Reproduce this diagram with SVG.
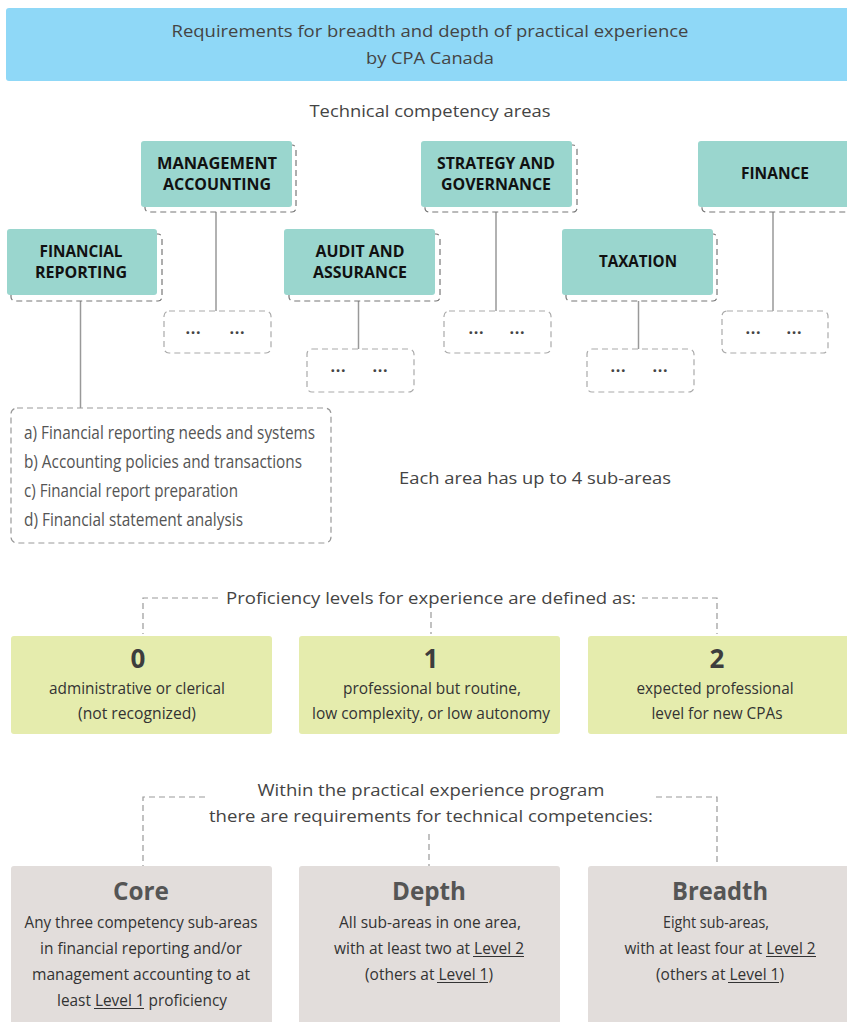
<svg xmlns="http://www.w3.org/2000/svg" width="847" height="1022" viewBox="0 0 847 1022">
<style>
text{font-family:"Open Sans","DejaVu Sans",sans-serif;fill:#444;text-anchor:middle}
.t{font-size:17px}
.c{font-size:17px;fill:#333}
.l{font-size:18px;fill:#555;text-anchor:start}
.h{font-size:16px;font-weight:bold;fill:#111}
.n{font-size:26px;font-weight:bold;fill:#3d3d3d}
.g{font-size:25px;font-weight:bold;fill:#555}
.d{font-size:16px;font-weight:bold;fill:#444}
.teal{fill:#9AD6CE}
.sh{fill:none;stroke:#777;stroke-width:1.2;stroke-dasharray:6 4}
.sm{fill:#fff;stroke:#aaa;stroke-width:1.2;stroke-dasharray:6 4}
.ln{stroke:#999;stroke-width:1.5;fill:none}
.dl{stroke:#999;stroke-width:1.2;fill:none;stroke-dasharray:6 4}
.ul{stroke:#333;stroke-width:1.1}
.grn{fill:#E5ECAD}
.gry{fill:#E2DDDB}
</style>
<rect x="6" y="8" width="845" height="73" rx="3" fill="#8FD8F7"/>
<text class="t" x="430" y="37" textLength="517" lengthAdjust="spacingAndGlyphs">Requirements for breadth and depth of practical experience</text>
<text class="t" x="430" y="64" textLength="128" lengthAdjust="spacingAndGlyphs">by CPA Canada</text>
<text class="t" x="430" y="117" textLength="241" lengthAdjust="spacingAndGlyphs">Technical competency areas</text>

<g id="connectors">
<line class="ln" x1="80.5" y1="301" x2="80.5" y2="408"/>
<line class="ln" x1="216" y1="212" x2="216" y2="311"/>
<line class="ln" x1="358.5" y1="301" x2="358.5" y2="349"/>
<line class="ln" x1="496" y1="212" x2="496" y2="311"/>
<line class="ln" x1="638.5" y1="301" x2="638.5" y2="349"/>
<line class="ln" x1="773" y1="212" x2="773" y2="311"/>
<path class="dl" d="M218 598 H143 V634"/>
<path class="dl" d="M642 598 H717 V634"/>
<path class="dl" d="M431 612 V634"/>
<path class="dl" d="M205 797 H143 V866"/>
<path class="dl" d="M656 797 H717 V866"/>
<path class="dl" d="M429 834 V866"/>
</g>

<g id="management-accounting">
<rect class="sh" x="145" y="145" width="151" height="67" rx="4"/>
<rect class="teal" x="141" y="141" width="151" height="66" rx="3"/>
<text class="h" x="217" y="169" textLength="120" lengthAdjust="spacingAndGlyphs">MANAGEMENT</text>
<text class="h" x="217" y="190" textLength="108" lengthAdjust="spacingAndGlyphs">ACCOUNTING</text>
</g>
<g id="financial-reporting">
<rect class="sh" x="11" y="234" width="151" height="67" rx="4"/>
<rect class="teal" x="7" y="229" width="150" height="66" rx="3"/>
<text class="h" x="81" y="257" textLength="83" lengthAdjust="spacingAndGlyphs">FINANCIAL</text>
<text class="h" x="81" y="278" textLength="92" lengthAdjust="spacingAndGlyphs">REPORTING</text>
</g>
<g id="audit-assurance">
<rect class="sh" x="289" y="234" width="151" height="67" rx="4"/>
<rect class="teal" x="284" y="229" width="151" height="66" rx="3"/>
<text class="h" x="360" y="257" textLength="89" lengthAdjust="spacingAndGlyphs">AUDIT AND</text>
<text class="h" x="360" y="278" textLength="94" lengthAdjust="spacingAndGlyphs">ASSURANCE</text>
</g>
<g id="strategy-governance">
<rect class="sh" x="425" y="145" width="152" height="67" rx="4"/>
<rect class="teal" x="421" y="141" width="151" height="66" rx="3"/>
<text class="h" x="496" y="169" textLength="118" lengthAdjust="spacingAndGlyphs">STRATEGY AND</text>
<text class="h" x="496" y="190" textLength="110" lengthAdjust="spacingAndGlyphs">GOVERNANCE</text>
</g>
<g id="taxation">
<rect class="sh" x="566" y="234" width="151" height="67" rx="4"/>
<rect class="teal" x="562" y="229" width="151" height="66" rx="3"/>
<text class="h" x="638" y="267" textLength="78" lengthAdjust="spacingAndGlyphs">TAXATION</text>
</g>
<g id="finance">
<rect class="sh" x="702" y="145" width="152" height="67" rx="4"/>
<rect class="teal" x="698" y="141" width="152" height="66" rx="3"/>
<text class="h" x="775" y="179" textLength="68" lengthAdjust="spacingAndGlyphs">FINANCE</text>
</g>

<g id="ma-sub"><rect class="sm" x="164" y="311" width="107" height="42" rx="5"/>
<text class="d" x="193" y="334" textLength="15" lengthAdjust="spacing">...</text><text class="d" x="237" y="334" textLength="15" lengthAdjust="spacing">...</text></g>
<g id="aa-sub"><rect class="sm" x="307" y="349" width="107" height="43" rx="5"/>
<text class="d" x="338" y="372" textLength="15" lengthAdjust="spacing">...</text><text class="d" x="380" y="372" textLength="15" lengthAdjust="spacing">...</text></g>
<g id="sg-sub"><rect class="sm" x="444" y="311" width="107" height="42" rx="5"/>
<text class="d" x="476" y="334" textLength="15" lengthAdjust="spacing">...</text><text class="d" x="517" y="334" textLength="15" lengthAdjust="spacing">...</text></g>
<g id="tx-sub"><rect class="sm" x="587" y="349" width="107" height="43" rx="5"/>
<text class="d" x="618" y="372" textLength="15" lengthAdjust="spacing">...</text><text class="d" x="660" y="372" textLength="15" lengthAdjust="spacing">...</text></g>
<g id="fi-sub"><rect class="sm" x="722" y="311" width="106" height="42" rx="5"/>
<text class="d" x="753" y="334" textLength="15" lengthAdjust="spacing">...</text><text class="d" x="794" y="334" textLength="15" lengthAdjust="spacing">...</text></g>

<g id="fr-sub">
<rect class="sm" x="11" y="408" width="320" height="135" rx="6" style="stroke:#999"/>
<text class="l" x="24" y="439" textLength="291" lengthAdjust="spacingAndGlyphs">a) Financial reporting needs and systems</text>
<text class="l" x="24" y="468" textLength="278" lengthAdjust="spacingAndGlyphs">b) Accounting policies and transactions</text>
<text class="l" x="24" y="497" textLength="214" lengthAdjust="spacingAndGlyphs">c) Financial report preparation</text>
<text class="l" x="24" y="526" textLength="219" lengthAdjust="spacingAndGlyphs">d) Financial statement analysis</text>
</g>
<text class="t" x="535" y="484" textLength="272" lengthAdjust="spacingAndGlyphs">Each area has up to 4 sub-areas</text>

<text class="t" x="431" y="604" textLength="410" lengthAdjust="spacingAndGlyphs">Proficiency levels for experience are defined as:</text>

<g id="level-0">
<rect class="grn" x="11" y="636" width="261" height="98" rx="3"/>
<text class="n" x="138" y="668">0</text>
<text class="c" x="137" y="694" textLength="176" lengthAdjust="spacingAndGlyphs">administrative or clerical</text>
<text class="c" x="137" y="719" textLength="118" lengthAdjust="spacingAndGlyphs">(not recognized)</text>
</g>
<g id="level-1">
<rect class="grn" x="299" y="636" width="261" height="98" rx="3"/>
<text class="n" x="431" y="668">1</text>
<text class="c" x="432" y="694" textLength="178" lengthAdjust="spacingAndGlyphs">professional but routine,</text>
<text class="c" x="431" y="719" textLength="238" lengthAdjust="spacingAndGlyphs">low complexity, or low autonomy</text>
</g>
<g id="level-2">
<rect class="grn" x="588" y="636" width="262" height="98" rx="3"/>
<text class="n" x="717" y="668">2</text>
<text class="c" x="715" y="694" textLength="157" lengthAdjust="spacingAndGlyphs">expected professional</text>
<text class="c" x="717" y="719" textLength="131" lengthAdjust="spacingAndGlyphs">level for new CPAs</text>
</g>

<text class="t" x="431" y="796" textLength="347" lengthAdjust="spacingAndGlyphs">Within the practical experience program</text>
<text class="t" x="431" y="822" textLength="444" lengthAdjust="spacingAndGlyphs">there are requirements for technical competencies:</text>

<g id="core">
<rect class="gry" x="11" y="866" width="261" height="170" rx="3"/>
<text class="g" x="141" y="900" textLength="56" lengthAdjust="spacingAndGlyphs">Core</text>
<text class="c" x="141" y="928" textLength="233" lengthAdjust="spacingAndGlyphs">Any three competency sub-areas</text>
<text class="c" x="141" y="954" textLength="202" lengthAdjust="spacingAndGlyphs">in financial reporting and/or</text>
<text class="c" x="141" y="980" textLength="218" lengthAdjust="spacingAndGlyphs">management accounting to at</text>
<text class="c" x="142" y="1006" textLength="170" lengthAdjust="spacingAndGlyphs">least Level 1 proficiency</text>
<line class="ul" x1="94" y1="1008.5" x2="144" y2="1008.5"/>
</g>
<g id="depth">
<rect class="gry" x="299" y="866" width="261" height="170" rx="3"/>
<text class="g" x="429" y="900" textLength="74" lengthAdjust="spacingAndGlyphs">Depth</text>
<text class="c" x="430" y="928" textLength="182" lengthAdjust="spacingAndGlyphs">All sub-areas in one area,</text>
<text class="c" x="429" y="954" textLength="190" lengthAdjust="spacingAndGlyphs">with at least two at Level 2</text>
<text class="c" x="429" y="980" textLength="128" lengthAdjust="spacingAndGlyphs">(others at Level 1)</text>
<line class="ul" x1="473" y1="956.5" x2="524" y2="956.5"/>
<line class="ul" x1="437" y1="982.5" x2="488" y2="982.5"/>
</g>
<g id="breadth">
<rect class="gry" x="588" y="866" width="262" height="170" rx="3"/>
<text class="g" x="720" y="900" textLength="96" lengthAdjust="spacingAndGlyphs">Breadth</text>
<text class="c" x="716" y="928" textLength="106" lengthAdjust="spacingAndGlyphs">Eight sub-areas,</text>
<text class="c" x="720" y="954" textLength="191" lengthAdjust="spacingAndGlyphs">with at least four at Level 2</text>
<text class="c" x="720" y="980" textLength="128" lengthAdjust="spacingAndGlyphs">(others at Level 1)</text>
<line class="ul" x1="766" y1="956.5" x2="816" y2="956.5"/>
<line class="ul" x1="728" y1="982.5" x2="779" y2="982.5"/>
</g>
</svg>
